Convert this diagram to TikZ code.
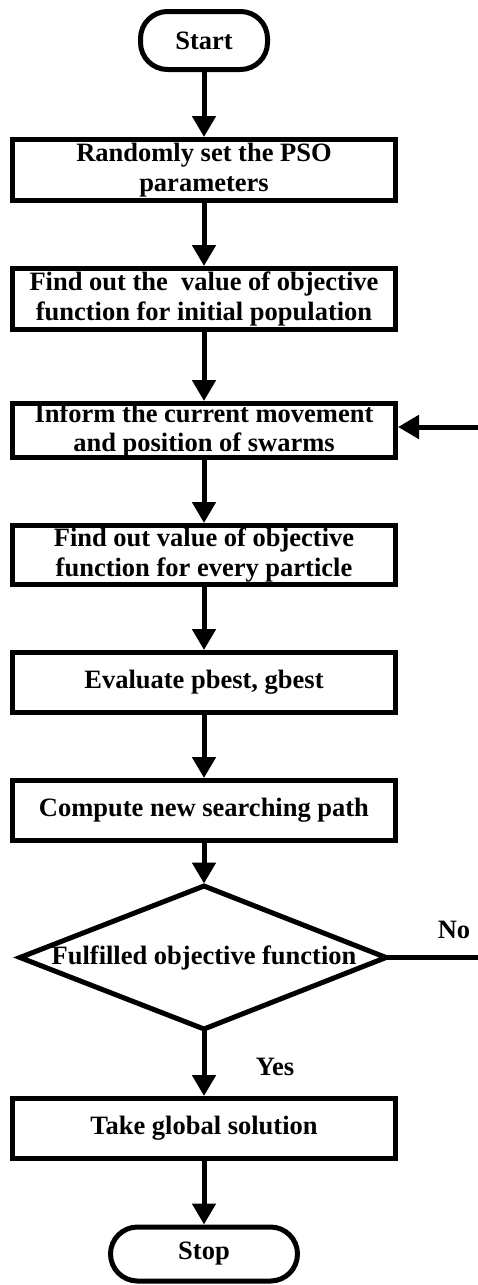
\documentclass[tikz,border=0pt]{standalone}
\usepackage{fontspec}
\setmainfont{Liberation Serif}
\usetikzlibrary{arrows.meta}
\begin{document}
\begin{tikzpicture}[x=1pt,y=-1pt,
  txt/.style={font=\bfseries\fontsize{26.5}{29.5}\selectfont},
  box/.style={txt, draw, line width=5pt, minimum width=383pt, inner sep=0pt, align=center},
  term/.style={txt, draw, line width=5pt, rounded corners=27pt, inner sep=0pt},
  conn/.style={line width=5pt, -{Triangle[length=21pt,width=23pt]}},
  plain/.style={line width=5pt},
  lbl/.style={txt, anchor=base, inner sep=0pt}]
\useasboundingbox (0,0) rectangle (478,1285);
\node[term, minimum width=127pt, minimum height=58pt] (start) at (204,40.5) {Start};
\node[box, minimum height=61pt] (b1) at (204,170) {Randomly set the PSO\\parameters};
\node[box, minimum height=61pt] (b2) at (204,299) {Find out the\ \ value of objective\\function for initial population};
\node[box, minimum height=54pt] (b3) at (204,430.5) {Inform the current movement\\and position of swarms};
\node[box, minimum height=59pt] (b4) at (204,555) {Find out value of objective\\function for every particle};
\node[box, minimum height=60pt] (b5) at (204,682.5) {Evaluate pbest, gbest};
\node[box, minimum height=60pt] (b6) at (204,810.5) {Compute new searching path};
\coordinate (dt) at (204,886);
\coordinate (db) at (204,1029);
\coordinate (dl) at (20,957.5);
\coordinate (dr) at (386,957.5);
\coordinate (dtip) at (204,883.5);
\draw[plain, line join=miter] (dt) -- (dr) -- (db) -- (dl) -- cycle;
\node[txt, inner sep=0pt] (dec) at (204,957.5) {Fulfilled objective function};
\node[box, minimum height=60pt] (b7) at (204,1128.5) {Take global solution};
\node[term, minimum width=187pt, minimum height=54pt] (stop) at (204,1254) {Stop};
\draw[conn] (start.south) -- (b1.north);
\draw[conn] (b1.south) -- (b2.north);
\draw[conn] (b2.south) -- (b3.north);
\draw[conn] (b3.south) -- (b4.north);
\draw[conn] (b4.south) -- (b5.north);
\draw[conn] (b5.south) -- (b6.north);
\draw[conn] (b6.south) -- (dtip);
\draw[conn] (db) -- (b7.north);
\draw[conn] (b7.south) -- (stop.north);
\coordinate (noend) at (478,957.5);
\draw[plain] (dr) -- (noend);
\coordinate (loopin) at (478,427);
\draw[conn] (loopin) -- (loopin -| b3.east);
\node[lbl] (no) at (454,938) {No};
\node[lbl] (yes) at (275,1075) {Yes};
\end{tikzpicture}
\end{document}
